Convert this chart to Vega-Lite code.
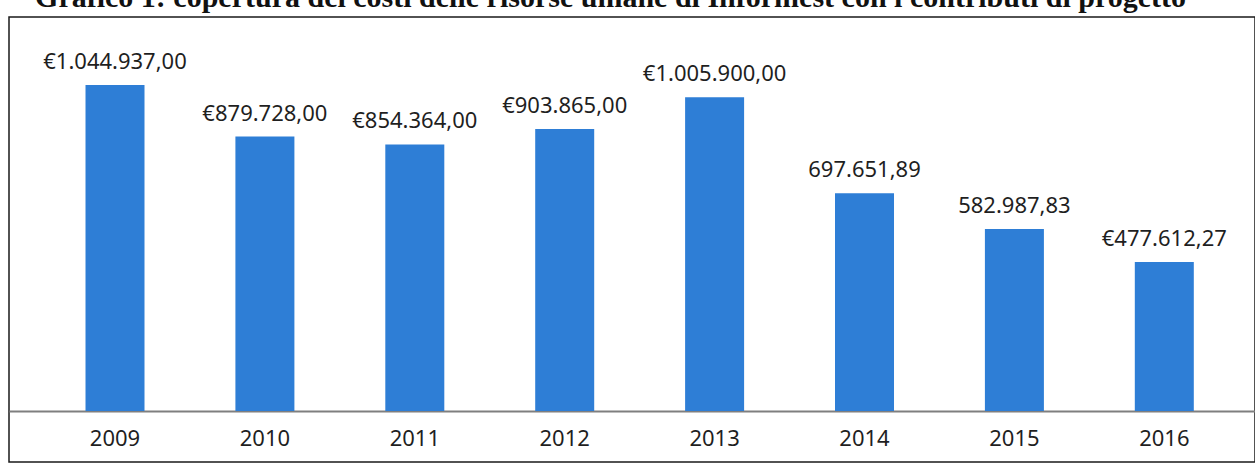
{
  "$schema": "https://vega.github.io/schema/vega-lite/v6.json",
  "width": 1246,
  "height": 445,
  "autosize": {"type": "none"},
  "padding": {"left": 9, "top": 17, "right": 0, "bottom": 4},
  "background": "white",
  "config": {"view": {"stroke": "#1a1a1a", "strokeWidth": 1.5}},
  "title": {
    "text": "Grafico 1: copertura dei costi delle risorse umane di Informest con i contributi di progetto¹",
    "anchor": "end",
    "frame": "group",
    "orient": "top",
    "font": "Liberation Serif",
    "fontWeight": "bold",
    "fontSize": 30,
    "color": "#111111",
    "baseline": "alphabetic",
    "offset": 0,
    "dx": -60,
    "dy": 20
  },
  "data": {
    "values": [
      {"anno": "2009", "valore": 1044937.00, "etichetta": "€1.044.937,00"},
      {"anno": "2010", "valore": 879728.00, "etichetta": "€879.728,00"},
      {"anno": "2011", "valore": 854364.00, "etichetta": "€854.364,00"},
      {"anno": "2012", "valore": 903865.00, "etichetta": "€903.865,00"},
      {"anno": "2013", "valore": 1005900.00, "etichetta": "€1.005.900,00"},
      {"anno": "2014", "valore": 697651.89, "etichetta": "697.651,89"},
      {"anno": "2015", "valore": 582987.83, "etichetta": "582.987,83"},
      {"anno": "2016", "valore": 477612.27, "etichetta": "€477.612,27"}
    ]
  },
  "encoding": {
    "x": {
      "field": "anno",
      "type": "nominal",
      "scale": {"paddingInner": 0.6064, "paddingOuter": 0.4593, "align": 0.5556},
      "axis": {
        "title": null,
        "orient": "bottom",
        "domain": false,
        "ticks": false,
        "grid": false,
        "labelAngle": 0,
        "labelFont": "Noto Sans",
        "labelFontSize": 22,
        "labelColor": "#1f1f1f",
        "labelBaseline": "alphabetic",
        "labelPadding": -17
      }
    },
    "y": {
      "field": "valore",
      "type": "quantitative",
      "scale": {"domain": [-163450, 1262800], "nice": false, "zero": true},
      "axis": {
        "title": null,
        "values": [0],
        "labels": false,
        "ticks": false,
        "domain": false,
        "grid": true,
        "gridColor": "#7f7f7f",
        "gridWidth": 2,
        "gridOpacity": 1
      }
    }
  },
  "layer": [
    {
      "mark": {"type": "bar", "color": "#2e7ed6"}
    },
    {
      "mark": {"type": "text", "font": "Noto Sans", "fontSize": 22, "color": "#1f1f1f", "baseline": "alphabetic", "dy": -16},
      "encoding": {
        "text": {"field": "etichetta"}
      }
    }
  ]
}
